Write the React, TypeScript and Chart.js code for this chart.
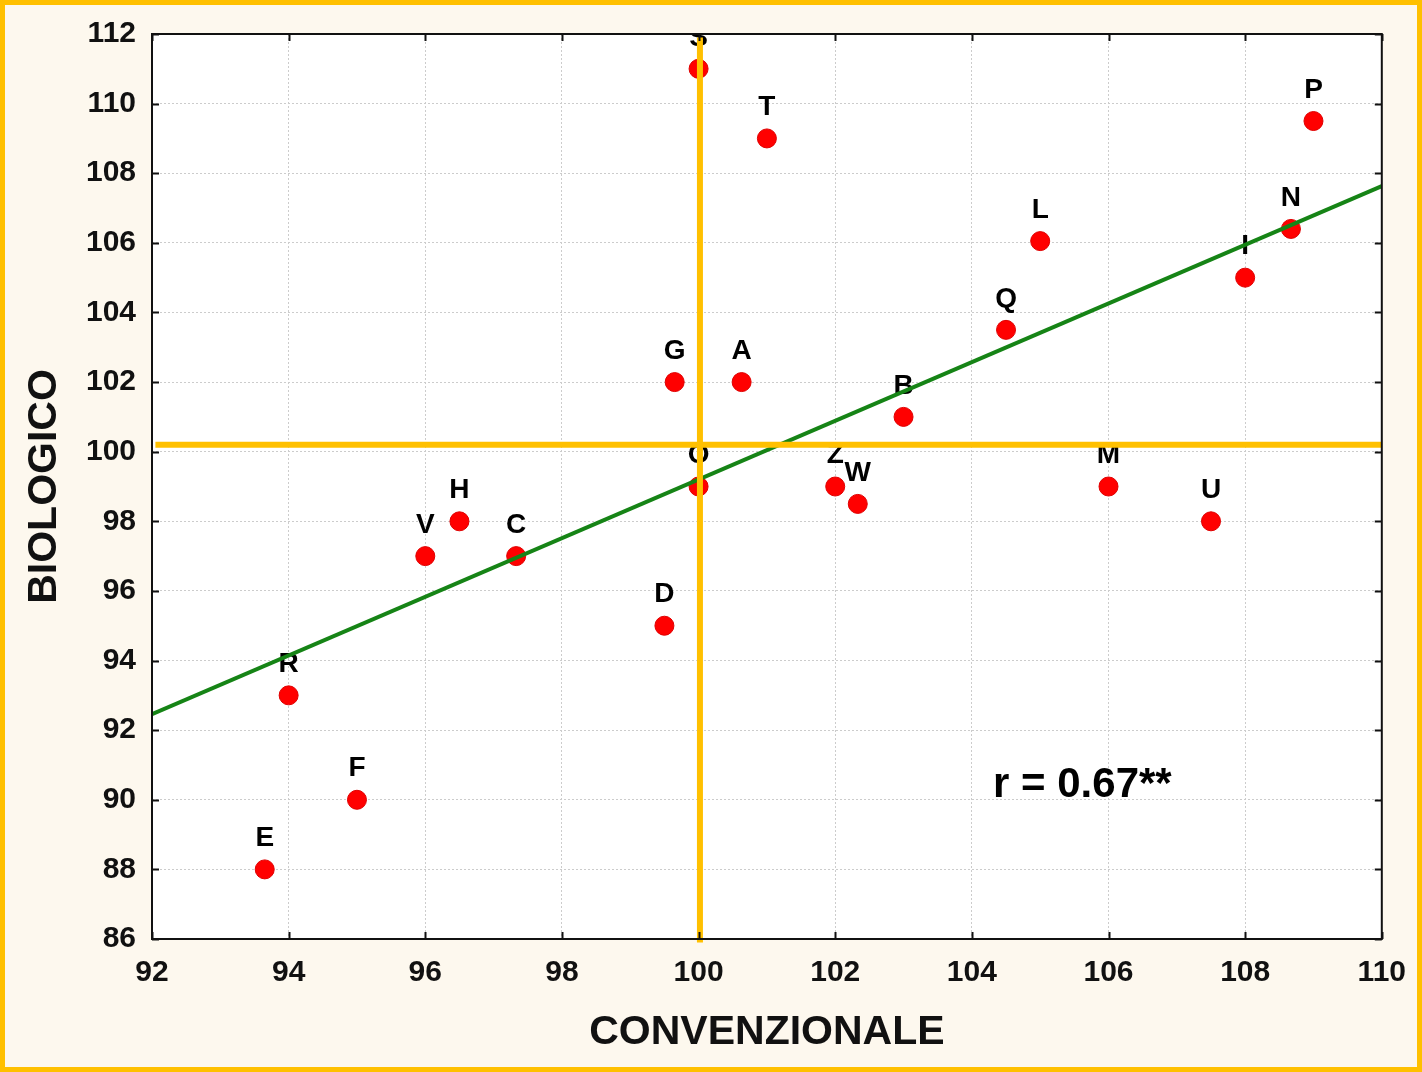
import React, { useEffect, useRef } from "react";
import { Chart, registerables } from "chart.js";

Chart.register(...registerables);

// ---- Data ----
const pointLabels = ["S", "T", "P", "L", "N", "I", "Q", "G", "A", "B", "O", "Z", "W", "M", "U", "H", "V", "C", "D", "R", "F", "E"];
const convenzionale = [100, 101, 109, 105, 108.67, 108, 104.5, 99.65, 100.63, 103, 100, 102, 102.33, 106, 107.5, 96.5, 96, 97.33, 99.5, 94, 95, 93.65];
const biologico = [111, 109, 109.5, 106.05, 106.4, 105, 103.5, 102, 102, 101, 99, 99, 98.5, 99, 98, 98, 97, 97, 95, 93, 90, 88];

const regressionX = [92, 110];
const regressionY = [92.46, 107.63];

const refVerticalX = [100.02, 100.02];
const refVerticalY = [85.9, 111.9];
const refHorizontalX = [92.05, 110];
const refHorizontalY = [100.2, 100.2];

const xMin = 92;
const xMax = 110;
const yMin = 86;
const yMax = 112;
const tickStep = 2;

const xTitle = "CONVENZIONALE";
const yTitle = "BIOLOGICO";
const corrText = "r = 0.67**";
const corrPos = { x: 104.31, y: 90.42 };

const FONT = "'Liberation Sans', Arial, Helvetica, sans-serif";

const decorPlugin = {
  id: "decor",
  beforeDraw(chart: any) {
    const { ctx, width, height, chartArea: a } = chart;
    ctx.save();
    ctx.fillStyle = "#FDF8EE";
    ctx.fillRect(0, 0, width, height);
    ctx.fillStyle = "#ffffff";
    ctx.fillRect(a.left, a.top, a.right - a.left, a.bottom - a.top);
    ctx.restore();
  },
  afterDatasetDraw(chart: any, args: any) {
    if (args.index !== 0) return;
    const { ctx, chartArea: a } = chart;
    const meta = chart.getDatasetMeta(0);
    ctx.save();
    ctx.beginPath();
    ctx.rect(a.left, a.top, a.right - a.left, a.bottom - a.top);
    ctx.clip();
    ctx.font = `bold 28px ${FONT}`;
    ctx.fillStyle = "#000";
    ctx.textAlign = "center";
    ctx.textBaseline = "middle";
    meta.data.forEach((el: any, i: number) => {
      ctx.fillText(pointLabels[i], el.x, el.y - 31);
    });
    const xs = chart.scales.x;
    const ys = chart.scales.y;
    ctx.font = `bold 42px ${FONT}`;
    ctx.textAlign = "left";
    ctx.fillText(corrText, xs.getPixelForValue(corrPos.x), ys.getPixelForValue(corrPos.y));
    ctx.restore();
  },
  afterDraw(chart: any) {
    const { ctx, width, height, chartArea: a } = chart;
    const xs = chart.scales.x;
    const ys = chart.scales.y;
    ctx.save();
    ctx.strokeStyle = "#111";
    ctx.lineWidth = 2;
    ctx.beginPath();
    xs.ticks.forEach((t: any) => {
      const px = Math.round(xs.getPixelForValue(t.value)) + 0.5;
      ctx.moveTo(px, a.bottom);
      ctx.lineTo(px, a.bottom - 7);
      ctx.moveTo(px, a.top);
      ctx.lineTo(px, a.top + 7);
    });
    ys.ticks.forEach((t: any) => {
      const py = Math.round(ys.getPixelForValue(t.value)) + 0.5;
      ctx.moveTo(a.left, py);
      ctx.lineTo(a.left + 7, py);
      ctx.moveTo(a.right, py);
      ctx.lineTo(a.right - 7, py);
    });
    ctx.stroke();
    ctx.strokeRect(a.left, a.top, a.right - a.left, a.bottom - a.top);
    ctx.strokeStyle = "#FFC000";
    ctx.lineWidth = 5;
    ctx.strokeRect(2.5, 2.5, width - 5, height - 5);
    ctx.restore();
  },
};

export default function App() {
  const ref = useRef<HTMLCanvasElement | null>(null);

  useEffect(() => {
    document.body.style.margin = "0";
    const canvas = ref.current;
    if (!canvas) return;

    const tickFont = { family: FONT, size: 30, weight: "bold" as const };
    const titleFont = { family: FONT, size: 41, weight: "bold" as const, lineHeight: 1.2 };

    const chart = new Chart(canvas, {
      type: "scatter",
      data: {
        datasets: [
          {
            label: "points",
            data: convenzionale.map((x, i) => ({ x, y: biologico[i] })),
            backgroundColor: "#ff0000",
            borderColor: "#e00000",
            borderWidth: 1,
            pointRadius: 9.5,
            order: 3,
          },
          {
            label: "regression",
            type: "line",
            data: regressionX.map((x, i) => ({ x, y: regressionY[i] })),
            borderColor: "#168416",
            borderWidth: 4,
            pointRadius: 0,
            fill: false,
            order: 2,
          },
          {
            label: "vertical",
            type: "line",
            data: refVerticalX.map((x, i) => ({ x, y: refVerticalY[i] })),
            borderColor: "#FFC000",
            borderWidth: 6,
            pointRadius: 0,
            fill: false,
            clip: false,
            order: 1,
          },
          {
            label: "horizontal",
            type: "line",
            data: refHorizontalX.map((x, i) => ({ x, y: refHorizontalY[i] })),
            borderColor: "#FFC000",
            borderWidth: 6,
            pointRadius: 0,
            fill: false,
            clip: false,
            order: 1,
          },
        ],
      },
      options: {
        responsive: false,
        animation: false,
        layout: { padding: { left: 0, top: 34, right: 40, bottom: 0 } },
        plugins: {
          legend: { display: false },
          tooltip: { enabled: false },
        },
        scales: {
          x: {
            type: "linear",
            min: xMin,
            max: xMax,
            afterFit: (s: any) => {
              s.height = 133;
            },
            ticks: {
              stepSize: tickStep,
              font: tickFont,
              color: "#111",
              padding: 16,
              maxRotation: 0,
            },
            grid: { color: "#cccccc", lineWidth: 1, drawTicks: false },
            border: { display: false, dash: [2, 2] },
            title: {
              display: true,
              text: xTitle,
              font: titleFont,
              color: "#111",
              padding: { top: 0, bottom: 15 },
            },
          },
          y: {
            type: "linear",
            min: yMin,
            max: yMax,
            afterFit: (s: any) => {
              s.width = 152;
            },
            ticks: {
              stepSize: tickStep,
              font: tickFont,
              color: "#111",
              padding: 16,
            },
            grid: { color: "#cccccc", lineWidth: 1, drawTicks: false },
            border: { display: false, dash: [2, 2] },
            title: {
              display: true,
              text: yTitle,
              font: titleFont,
              color: "#111",
              padding: { top: 20, bottom: 0 },
            },
          },
        },
      },
      plugins: [decorPlugin],
    });

    return () => chart.destroy();
  }, []);

  return (
    <div style={{ width: 1422, height: 1072, position: "relative" }}>
      <canvas ref={ref} width={1422} height={1072} style={{ display: "block" }} />
    </div>
  );
}
